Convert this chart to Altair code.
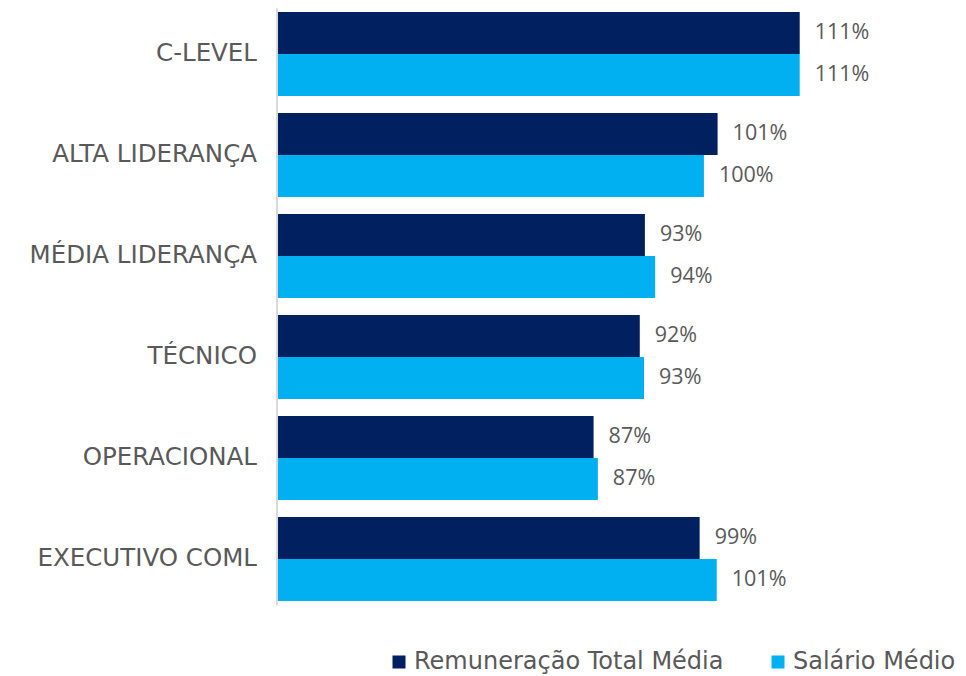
import altair as alt
import pandas as pd

categories = ["C-LEVEL", "ALTA LIDERANÇA", "MÉDIA LIDERANÇA", "TÉCNICO", "OPERACIONAL", "EXECUTIVO COML"]
series = ["Remuneração Total Média", "Salário Médio"]
remuneracao_total = [1.110, 1.014, 0.929, 0.923, 0.869, 0.993]
salario_medio = [1.110, 0.998, 0.941, 0.928, 0.874, 1.013]
colors = ["#002060", "#00B0F0"]

rows = []
for i, c in enumerate(categories):
    rows.append({"categoria": c, "serie": series[0], "valor": remuneracao_total[i]})
    rows.append({"categoria": c, "serie": series[1], "valor": salario_medio[i]})
df = pd.DataFrame(rows)

FONT = "DejaVu Sans"
NUM_FONT = "Open Sans"
GRAY = "#595959"

y_enc = alt.Y("categoria:N", sort=categories, title=None,
              scale=alt.Scale(paddingInner=0.168, paddingOuter=0.04),
              axis=alt.Axis(ticks=False, domainColor="#D9D9D9", domainWidth=2,
                            offset=1.5, labelPadding=20, labelFontSize=24.5,
                            labelColor=GRAY, labelFont=FONT, labelLimit=300))
x_enc = alt.X("valor:Q", title=None,
              scale=alt.Scale(domain=[0.5, 1.26], nice=False, zero=False),
              axis=None)
yoff = alt.YOffset("serie:N", sort=series)

bars = alt.Chart(df).mark_bar(clip=True).encode(
    y=y_enc, x=x_enc, yOffset=yoff,
    color=alt.Color("serie:N", sort=series,
                    scale=alt.Scale(domain=series, range=colors),
                    legend=alt.Legend(title=None, orient="none", direction="horizontal",
                                      legendX=109, legendY=642,
                                      symbolType="square", symbolSize=169,
                                      symbolStrokeWidth=0, labelOffset=3,
                                      labelFontSize=24, labelColor=GRAY,
                                      labelFont=FONT, columnPadding=42,
                                      labelLimit=400)),
)

labels = alt.Chart(df).mark_text(align="left", baseline="middle", dx=15,
                                 fontSize=21.5, color=GRAY, font=NUM_FONT).encode(
    y=alt.Y("categoria:N", sort=categories), x="valor:Q", yOffset=yoff,
    text=alt.Text("valor:Q", format=".0%"),
)

chart = alt.layer(bars, labels).properties(
    width=650, height=597,
    autosize=alt.AutoSizeParams(type="none"),
    padding={"left": 270, "top": 0, "right": 30, "bottom": 70},
).configure_view(stroke=None)

chart.save("out.html", embed_options={"renderer": "svg", "actions": False})
